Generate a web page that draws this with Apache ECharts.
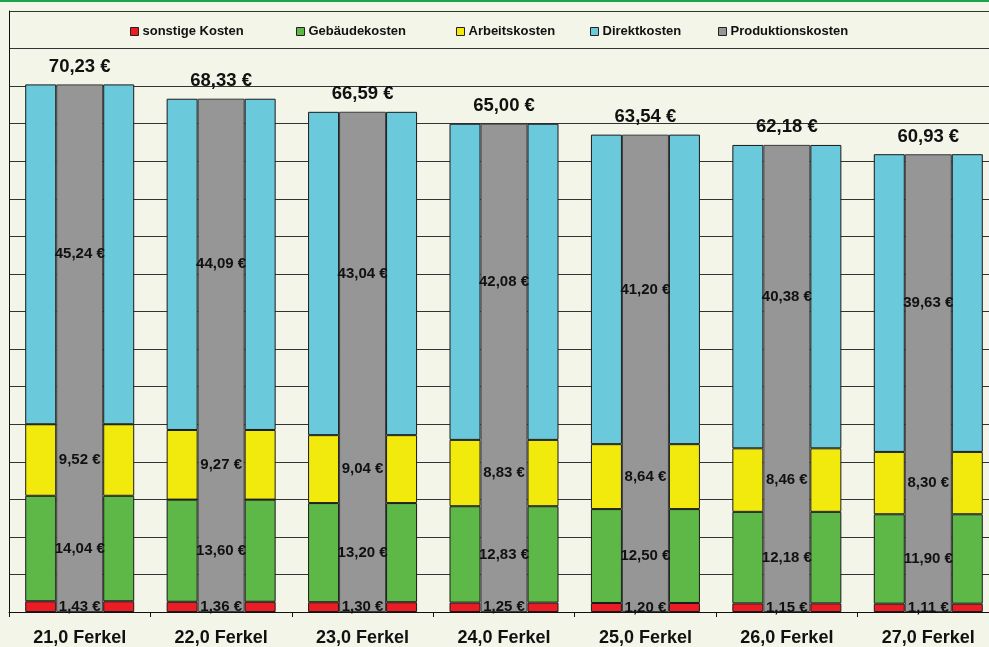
<!DOCTYPE html>
<html>
<head>
<meta charset="utf-8">
<script src="https://cdn.jsdelivr.net/npm/echarts@6/dist/echarts.min.js"></script>
<style>
html,body{margin:0;padding:0;background:#F2F5E7;overflow:hidden;width:989px;height:647px;}
#c{width:1000px;height:647px;}
</style>
</head>
<body>
<div id="c"></div>
<script>
const categories = ['21,0 Ferkel','22,0 Ferkel','23,0 Ferkel','24,0 Ferkel','25,0 Ferkel','26,0 Ferkel','27,0 Ferkel'];
const sonstigeKosten = [1.43, 1.36, 1.30, 1.25, 1.20, 1.15, 1.11];
const gebaeudeKosten = [14.04, 13.60, 13.20, 12.83, 12.50, 12.18, 11.90];
const arbeitsKosten = [9.52, 9.27, 9.04, 8.83, 8.64, 8.46, 8.30];
const direktKosten = [45.24, 44.09, 43.04, 42.08, 41.20, 40.38, 39.63];
const produktionsKosten = [70.23, 68.33, 66.59, 65.00, 63.54, 62.18, 60.93];

const FONT = 'Liberation Sans, Arial, sans-serif';
const comps = [
  {name:'sonstige Kosten', data:sonstigeKosten, color:'#EC1C24'},
  {name:'Gebäudekosten', data:gebaeudeKosten, color:'#5DB848'},
  {name:'Arbeitskosten', data:arbeitsKosten, color:'#F2EA0C'},
  {name:'Direktkosten', data:direktKosten, color:'#6ACADB'}
];
const greyColor = '#969696';
const fmt = v => v.toFixed(2).replace('.', ',') + ' €';

const series = [];
comps.forEach(c => {
  series.push({type:'bar', name:c.name, stack:'L', data:c.data, barWidth:31, barGap:'0%',
    itemStyle:{color:c.color, borderColor:'#1a1a1a', borderWidth:1}, silent:true});
});
series.push({type:'bar', name:'Produktionskosten', stack:'M', data:produktionsKosten, barWidth:47, barGap:'0%',
  itemStyle:{color:greyColor, borderColor:'#3a3a3a', borderWidth:1}, silent:true,
  label:{show:true, position:'top', distance:8, formatter:p => fmt(p.value),
    fontFamily:FONT, fontWeight:'bold', fontSize:18.5, color:'#111'}});
comps.forEach(c => {
  series.push({type:'bar', name:c.name, stack:'R', data:c.data, barWidth:31, barGap:'0%',
    itemStyle:{color:c.color, borderColor:'#1a1a1a', borderWidth:1}, silent:true});
});
comps.forEach(c => {
  series.push({type:'bar', name:c.name, stack:'LBL', data:c.data, barWidth:47, xAxisIndex:1, z:5,
    itemStyle:{color:'rgba(0,0,0,0)', borderWidth:0}, silent:true,
    label:{show:true, position:'inside', formatter:p => fmt(p.value),
      fontFamily:FONT, fontWeight:'bold', fontSize:15, color:'#111'}});
});

const legendDefs = [
  {name:'sonstige Kosten', color:'#EC1C24', left:130},
  {name:'Gebäudekosten', color:'#5DB848', left:296},
  {name:'Arbeitskosten', color:'#F2EA0C', left:456},
  {name:'Direktkosten', color:'#6ACADB', left:590},
  {name:'Produktionskosten', color:greyColor, left:718}
];
const legends = legendDefs.map(l => ({
  left:l.left, top:25, itemWidth:8, itemHeight:8, itemGap:0, padding:0,
  selectedMode:false,
  data:[{name:l.name, icon:'rect', itemStyle:{color:l.color, borderColor:'#222', borderWidth:1}}],
  textStyle:{fontFamily:FONT, fontWeight:'bold', fontSize:13, color:'#111', padding:[0,0,0,-1]}
}));

const chart = echarts.init(document.getElementById('c'), null, {renderer:'canvas'});
chart.setOption({
  animation:false,
  backgroundColor:'#F2F5E7',
  graphic:[{type:'rect', left:0, top:0, shape:{width:1000, height:2}, style:{fill:'#1BA24A'}, silent:true}],
  legend:legends,
  grid:{left:9, top:11, width:990, height:601},
  xAxis:[
    {type:'category', data:categories, boundaryGap:true,
      axisLine:{lineStyle:{color:'#111', width:1}},
      axisTick:{show:true, length:5, lineStyle:{color:'#111'}},
      axisLabel:{fontFamily:FONT, fontWeight:'bold', fontSize:18, color:'#111', margin:17}},
    {type:'category', data:categories, show:false, boundaryGap:true}
  ],
  yAxis:{type:'value', min:0, max:80, interval:5,
    axisLine:{show:true, lineStyle:{color:'#111'}},
    axisTick:{show:false}, axisLabel:{show:false},
    splitLine:{show:true, lineStyle:{color:'#333', width:1}}},
  series:series
});
</script>
</body>
</html>
